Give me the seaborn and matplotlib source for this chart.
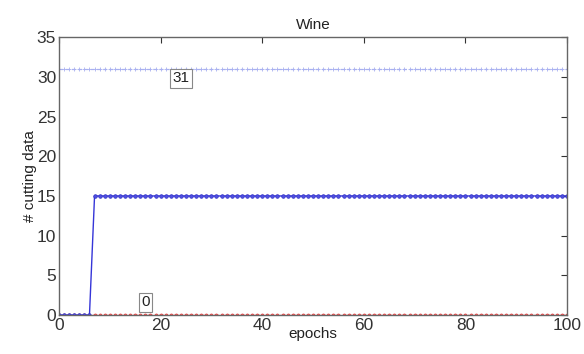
import numpy as np
import pandas as pd
import matplotlib
matplotlib.use("Agg")
import matplotlib.pyplot as plt
import seaborn as sns

epochs = list(range(0, 101))
blue_values = [0]*7 + [15]*94
red_values = [0]*101
ref_value = [31]*101
label_31 = "31"
label_0 = "0"
label_31_pos = (24, 29.8)
label_0_pos = (17, 1.6)

sns.set_style("white")
plt.rcParams['font.family'] = ['Liberation Sans', 'DejaVu Sans']

fig = plt.figure(figsize=(5.84, 3.54), dpi=100)
ax = fig.add_axes([0.101, 0.110, 0.870, 0.785])

df = pd.DataFrame({"epochs": epochs, "blue": blue_values, "red": red_values, "ref": ref_value})

sns.lineplot(data=df, x="epochs", y="ref", ax=ax, color="#a8b0f0", lw=0.9,
             linestyle=(0, (3, 2)), marker="+", markersize=3, markeredgewidth=0.6,
             markeredgecolor="#a8b0f0")
sns.lineplot(data=df, x="epochs", y="red", ax=ax, color="#e03838", lw=1.0,
             linestyle=":", marker="o", markersize=2.2, markeredgecolor="#e03838",
             markerfacecolor="#f07070", markeredgewidth=0.5)
sns.lineplot(data=df, x="epochs", y="blue", ax=ax, color="#3535d8", lw=1.0,
             marker="o", markersize=2.6, markeredgecolor="#3030c8",
             markerfacecolor="#5050e0", markeredgewidth=0.5)

bbox = dict(boxstyle="square,pad=0.15", fc="white", ec="#888888", lw=0.8)
ax.text(label_31_pos[0], label_31_pos[1], label_31, fontsize=11, ha="center", va="center", bbox=bbox, color="#222222")
ax.text(label_0_pos[0], label_0_pos[1], label_0, fontsize=11, ha="center", va="center", bbox=bbox, color="#222222")

ax.set_xlim(0, 100)
ax.set_ylim(0, 35)
ax.set_xticks([0, 20, 40, 60, 80, 100])
ax.set_yticks([0, 5, 10, 15, 20, 25, 30, 35])
ax.tick_params(direction="in", length=4, top=True, right=True, labelsize=12.5, colors="#333333")
ax.tick_params(axis="x", pad=2)
ax.tick_params(axis="y", pad=2)
for s in ax.spines.values():
    s.set_color("#666666")
    s.set_linewidth(1.0)
ax.set_title("Wine", fontsize=11, pad=6, color="#222222")
ax.set_xlabel("epochs", fontsize=11, labelpad=-4, color="#222222")
ax.set_ylabel("# cutting data", fontsize=11, labelpad=0, color="#222222")

fig.savefig("out.png", dpi=100)
